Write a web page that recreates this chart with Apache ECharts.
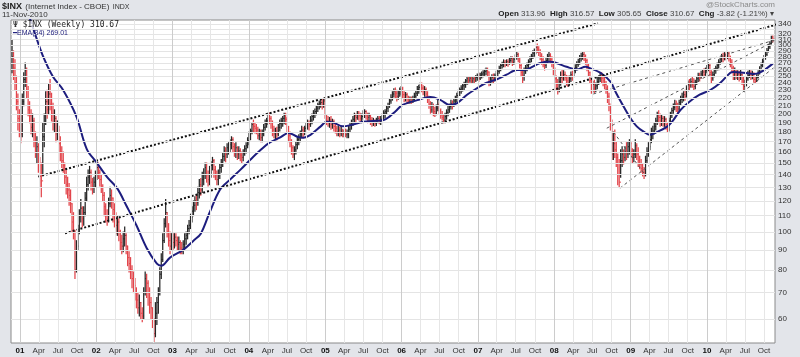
<!DOCTYPE html>
<html><head><meta charset="utf-8">
<script src="https://cdn.jsdelivr.net/npm/echarts@6/dist/echarts.min.js"></script>
<style>html,body{margin:0;padding:0;background:#e3e5ea;}#c{width:800px;height:357px;}</style>
</head><body><div id="c"></div>
<script>
// ---- data (weekly bars, index 0 = week ending 2000-11-24) ----
const firstWeek = '2000-11-24';
const closes = [
280,262,240,215,195,188,178,215,245,258,
230,205,198,185,192,170,160,165,148,140,
135,175,190,215,205,225,212,200,190,195,
178,182,168,160,152,148,138,132,128,124,
118,106,100,80,92,100,110,115,108,112,
122,132,138,142,134,130,134,140,146,142,
136,130,124,116,110,108,118,124,122,114,
110,104,106,100,94,92,96,98,92,86,
83,80,76,73,70,67,64,66,62,61,
70,76,74,70,66,64,59,55,62,66,
70,78,85,95,105,112,100,95,92,96,
94,97,95,93,94,91,90,93,96,98,
102,104,109,113,117,120,119,126,132,128,
136,140,146,140,136,142,148,152,144,140,
136,140,146,150,156,161,158,164,167,170,
172,165,160,164,158,161,157,155,159,163,
166,171,176,181,188,186,184,182,176,179,
174,178,185,189,192,197,195,190,182,178,
181,178,185,189,192,195,198,194,185,176,
170,164,158,162,167,172,174,178,182,180,
184,187,190,188,193,197,200,203,207,211,
213,214,212,216,198,192,190,193,188,191,
186,184,180,182,179,181,178,180,177,179,
183,187,190,194,198,196,200,198,195,197,
201,203,199,196,198,193,190,192,189,193,
195,191,194,197,201,203,207,210,216,220,
225,229,226,222,226,230,232,224,220,224,
219,216,219,215,218,222,226,231,234,237,
233,229,231,225,219,212,205,210,203,200,
207,211,204,199,196,193,197,202,205,209,
213,211,216,219,223,227,231,233,236,238,
243,246,244,247,243,246,244,248,250,247,
251,253,255,257,259,256,241,244,248,246,
250,254,257,262,266,268,271,269,272,270,
274,277,271,276,280,284,278,266,255,250,
258,262,266,272,276,281,286,290,296,293,
288,280,275,268,266,274,280,283,276,270,
258,246,238,232,242,248,246,252,248,243,
240,246,252,250,258,263,268,272,278,281,
284,280,274,265,255,244,232,238,233,236,
242,246,250,247,243,238,233,222,212,192,
158,168,162,155,140,134,152,158,155,160,
158,165,168,160,155,158,166,158,152,149,
145,142,140,152,160,165,172,178,181,186,
192,198,196,192,195,191,194,188,183,192,
199,204,208,212,209,206,214,218,221,224,
222,232,238,236,242,240,235,241,246,250,
247,253,256,252,258,262,266,255,246,252,
257,262,266,271,276,280,278,283,281,286,
279,270,262,252,255,250,253,248,252,243,
235,238,246,251,254,250,253,245,242,248,
255,260,266,273,278,284,290,297,303,314.49,
310.67];
const highs = [
309,290,275,250,225,205,200,225,255,270,
262,235,215,205,200,195,180,175,168,155,
150,190,200,228,230,238,245,226,213,205,
197,192,186,175,165,160,150,144,138,133,
128,118,112,101,95,104,114,121,116,116,
126,138,144,147,144,137,138,143,148,150,
144,140,132,126,118,114,122,130,128,122,
118,112,110,108,101,98,100,103,99,92,
89,86,82,79,76,72,70,69,66,64,
72,79,78,75,72,68,64,60,66,68,
72,81,88,99,108,121,112,105,100,99,
99,99,99,97,97,95,94,95,99,100,
104,107,111,116,120,123,124,130,136,137,
142,145,150,150,143,147,151,155,153,147,
143,144,149,153,159,165,164,168,169,172,
175,174,168,169,165,165,163,160,162,166,
169,174,180,183,190,193,190,188,185,183,
182,182,188,193,195,201,201,197,192,186,
184,185,188,193,195,197,201,201,196,186,
180,172,166,165,170,175,177,181,186,185,
186,190,193,192,197,200,204,206,210,213,
216,217,218,219,220,199,197,196,197,194,
193,189,186,186,185,186,183,182,183,182,
186,190,193,197,201,200,203,203,201,200,
204,205,204,201,201,199,196,195,193,195,
197,197,197,200,204,205,210,213,219,224,
228,232,233,230,229,233,235,234,228,227,
226,222,221,221,222,226,229,235,237,240,
240,236,235,233,228,222,215,214,212,208,
211,217,213,206,203,199,201,205,209,212,
217,216,219,222,226,230,233,236,239,241,
245,249,249,249,248,249,248,251,253,254,
254,256,258,260,262,262,256,248,252,253,
253,257,260,265,269,271,275,274,275,275,
278,280,280,279,283,287,286,279,268,259,
262,266,270,275,280,284,290,293,299,302,
297,292,285,280,273,278,284,287,285,280,
272,262,250,245,248,256,259,258,256,251,
250,250,256,257,262,267,272,276,282,286,
287,287,283,276,268,256,246,242,244,240,
248,250,254,255,250,248,242,236,226,210,
193,180,182,170,158,153,162,165,162,165,
169,170,172,170,163,162,172,168,164,156,
153,149,146,156,164,169,178,184,186,190,
195,202,204,200,199,197,197,195,190,195,
202,207,212,217,216,213,217,222,226,228,
230,236,243,245,246,248,246,244,249,254,
254,257,259,261,262,266,270,268,258,256,
261,265,270,275,279,284,286,287,286,289,
288,281,275,265,262,259,258,257,259,253,
248,244,249,257,259,258,257,255,249,252,
258,264,270,276,282,288,294,301,306,316,
316.57];
const lows = [
255,245,230,205,182,175,169,175,210,235,
220,198,190,178,175,165,155,150,142,130,
123,140,165,188,195,200,205,192,182,180,
170,172,160,152,146,142,133,125,122,117,
112,100,96,76,79,90,99,106,103,104,
110,120,128,133,128,125,126,130,136,137,
131,126,120,110,106,104,106,116,115,106,
103,99,98,95,90,88,89,92,88,82,
79,76,72,70,67,64,62,61,60,59,
60,69,68,65,62,60,57,52.5,54,58,
62,69,76,84,94,103,97,92,88,90,
90,91,92,90,90,88,88,88,91,93,
96,99,102,106,110,113,114,117,122,124,
126,132,137,134,131,132,138,144,138,136,
132,132,137,142,147,152,151,155,158,160,
163,160,156,155,153,154,152,150,152,157,
159,164,167,172,178,180,179,178,173,172,
170,170,176,182,185,188,189,184,176,174,
173,172,176,181,184,186,189,188,178,170,
165,158,155,153,158,163,167,170,174,174,
177,180,183,182,186,189,193,196,199,203,
206,208,206,208,195,188,186,185,183,184,
181,179,176,176,175,176,175,175,175,174,
174,180,183,187,191,191,194,193,192,190,
194,196,194,190,192,188,186,187,186,187,
190,189,188,191,194,196,200,203,208,213,
217,221,220,216,218,222,224,219,215,216,
214,213,213,213,214,216,219,223,226,229,
228,224,222,219,214,207,201,202,198,197,
199,204,200,195,193,190,190,194,198,202,
206,206,209,212,215,219,223,226,229,231,
234,238,239,241,240,240,240,242,244,242,
245,247,249,251,252,250,236,237,241,240,
243,246,250,254,258,262,264,264,266,265,
268,271,266,268,272,276,272,262,250,240,
244,254,258,263,268,272,277,281,285,287,
282,275,268,264,259,263,270,274,270,264,
252,240,230,225,228,237,240,244,244,237,
235,238,242,244,249,255,259,265,268,273,
276,274,268,258,250,240,226,228,227,228,
232,238,242,240,236,232,226,214,204,182,
153,153,155,147,132,130,138,147,149,152,
153,155,158,155,150,151,155,153,147,145,
142,139,137,139,150,156,162,169,173,178,
182,188,190,186,187,186,186,183,180,181,
190,196,201,205,203,201,204,211,214,216,
217,221,229,230,234,234,230,232,238,242,
243,247,250,249,251,255,258,250,240,244,
249,254,259,262,268,272,272,275,275,277,
273,264,257,245,245,246,245,243,245,238,
230,228,236,244,248,245,246,241,240,242,
247,253,259,264,270,276,282,288,294,302,
305.65];
// EMA(34): [week index, value]
const emaWeeks  = [0,5,10,16,21,28,35,44,51,58,65,72,78,85,92,99,102,108,117,124,129,135,142,149,156,163,170,176,183,189,195,199,204,211,215,220,226,233,240,247,254,258,262,267,277,286,293,299,304,311,318,324,331,338,345,350,354,361,368,372,379,386,392,395,402,409,413,418,422,427,432,436,441,448,452,457,463,470,477,484,491,493,500,507,511,516,520];
const emaValues = [470,425,372,318,282,249,230,197,163,150,138,129,117,104,91,83,82,86,90,95,99,112,128,136,144,153,162,169,174,179,175,174,177,186,191,190,186,188,191,192,193,197,203,211,217,221,217,211,213,224,233,240,245,252,259,259,262,270,272,270,264,260,264,262,255,242,226,209,197,186,180,177,180,186,193,205,215,224,230,240,255,256,255,253,255,262,269.01];
// trend lines: [[week, value],[week, value]]
const channelLines = [[[17.9,138.4],[400.5,341]], [[36.2,99.2],[538.6,352.7]]];
const fanLines = [[[397.3,225],[538.6,323]], [[406.5,184],[520.4,306]], [[415.5,129.3],[521.5,264]], [[411,180],[432.7,140]]];
const yTicks = [60,70,80,90,100,110,120,130,140,150,160,170,180,190,200,210,220,230,240,250,260,270,280,290,300,310,320,330,340];
const monthNames = ['Jan','Feb','Mar','Apr','May','Jun','Jul','Aug','Sep','Oct','Nov','Dec'];
const tickYears = [2001,2002,2003,2004,2005,2006,2007,2008,2009,2010];
const tickMonths = [0,3,6,9];

// ---- build ----
const DAY = 86400000;
const t0 = Date.parse(firstWeek + 'T00:00:00Z');
const wk = i => t0 + i * 7 * DAY;
const bars = closes.map((c, i) => [wk(i), highs[i], lows[i], c, (i === 0 || c >= closes[i - 1]) ? 1 : 0]);
const ema = emaWeeks.map((w, k) => [wk(w), emaValues[k]]);
const quarters = [];
tickYears.forEach(y => tickMonths.forEach(m => quarters.push(Date.UTC(y, m, 1))));
const FONT = 'Liberation Sans';

const gridMarks = yTicks.map(v => ({yAxis: v, lineStyle: {color: '#e4e4e4', width: 1, type: 'solid'}}))
  .concat(quarters.map(t => ({xAxis: t, lineStyle: {color: new Date(t).getUTCMonth() === 0 ? '#cccccc' : '#e6e6e6', width: 1, type: 'solid'}})));

const lineSeries = (pts, color, width, dash) => ({
  type: 'line', data: pts.map(p => [wk(p[0]), p[1]]), showSymbol: false, symbol: 'none', silent: true, clip: false,
  lineStyle: {color: color, width: width, type: dash}, z: 4, animation: false
});

const chart = echarts.init(document.getElementById('c'), null, {renderer: 'canvas'});
chart.setOption({
  animation: false,
  backgroundColor: '#e3e5ea',
  grid: {left: 11, right: 25, top: 20, bottom: 14, show: true, backgroundColor: '#ffffff', borderColor: '#8a8a8a', borderWidth: 1},
  xAxis: {
    type: 'value', min: Date.UTC(2000, 10, 19), max: Date.UTC(2010, 10, 22, 12), scale: true,
    axisLine: {show: false}, axisTick: {show: false}, splitLine: {show: false},
    axisLabel: {
      customValues: quarters, margin: 4, fontSize: 8, color: '#333', fontFamily: FONT,
      formatter: v => { const d = new Date(v); const m = d.getUTCMonth(); return m === 0 ? '{y|' + String(d.getUTCFullYear()).slice(2) + '}' : monthNames[m]; },
      rich: {y: {fontWeight: 'bold', fontSize: 8, color: '#111', fontFamily: FONT}}
    }
  },
  yAxis: {
    type: 'log', logBase: 10, position: 'right', min: 52.05, max: 347.6,
    axisLine: {show: false}, axisTick: {show: false}, splitLine: {show: false},
    axisLabel: {customValues: yTicks, margin: 3, fontSize: 8, color: '#333', fontFamily: FONT, showMaxLabel: true, showMinLabel: true, hideOverlap: false}
  },
  series: [
    {type: 'line', data: [], z: 1, silent: true, markLine: {silent: true, symbol: ['none', 'none'], label: {show: false}, animation: false, data: gridMarks}},
    {
      type: 'custom', data: bars, z: 2, clip: true, encode: {x: 0, y: [1, 2]},
      renderItem: (params, api) => {
        const x = api.value(0);
        const ph = api.coord([x, api.value(1)]);
        const pl = api.coord([x, api.value(2)]);
        const pc = api.coord([x, api.value(3)]);
        const col = api.value(4) ? '#262626' : '#e2454b';
        return {type: 'group', children: [
          {type: 'line', shape: {x1: ph[0], y1: ph[1] - 0.5, x2: pl[0], y2: pl[1] + 0.5}, style: {stroke: col, lineWidth: 1.25}},
          {type: 'line', shape: {x1: pc[0], y1: pc[1], x2: pc[0] + 1.8, y2: pc[1]}, style: {stroke: col, lineWidth: 1}}
        ]};
      }
    },
    {type: 'line', data: ema, smooth: 0.35, showSymbol: false, symbol: 'none', lineStyle: {color: '#1d1d7e', width: 2}, z: 3, silent: true},
    ...channelLines.map(l => lineSeries(l, '#111', 2, [2, 2])),
    ...fanLines.map(l => lineSeries(l, '#555', 1, [3, 3]))
  ],
  graphic: [
    {type: 'text', left: 2, top: 1, style: {text: '{b|$INX} {n|(Internet Index - CBOE)} {s|INDX}', rich: {
      b: {fontFamily: FONT, fontWeight: 'bold', fontSize: 9, fill: '#222'},
      n: {fontFamily: FONT, fontSize: 8, fill: '#333'},
      s: {fontFamily: FONT, fontSize: 7, fill: '#333'}}}},
    {type: 'text', left: 2, top: 11, style: {text: '11-Nov-2010', fontFamily: FONT, fontSize: 8, fill: '#333'}},
    {type: 'text', right: 25, top: 1, style: {text: '@StockCharts.com', fontFamily: FONT, fontSize: 8, fill: '#8a8a8a'}},
    {type: 'text', right: 26, top: 10, style: {text: '{b|Open} 313.96  {b|High} 316.57  {b|Low} 305.65  {b|Close} 310.67  {b|Chg} -3.82 (-1.21%) \u25BE', fontFamily: FONT, fontSize: 8, fill: '#444',
      rich: {b: {fontFamily: FONT, fontWeight: 'bold', fontSize: 8, fill: '#222'}}}},
    {type: 'text', left: 13, top: 21, z: 10, style: {text: '\u03A8 $INX (Weekly) 310.67', fontFamily: 'DejaVu Sans Mono', fontSize: 8, fill: '#222', backgroundColor: 'rgba(255,255,255,0.8)'}},
    {type: 'text', left: 13, top: 30, z: 10, style: {text: '\u2501EMA(34) 269.01', fontFamily: FONT, fontSize: 7, fill: '#23237e'}}
  ]
});
</script>
</body></html>
